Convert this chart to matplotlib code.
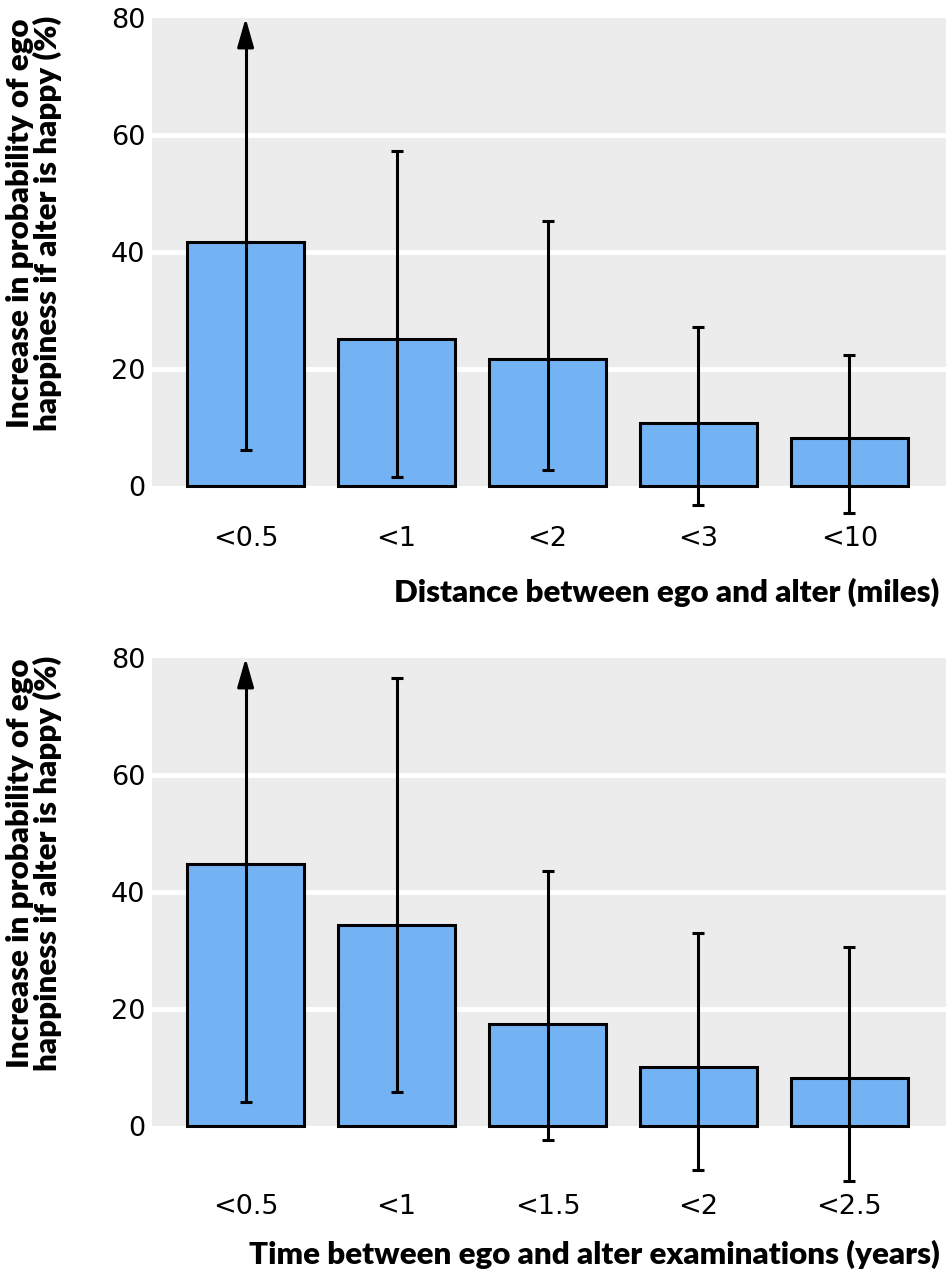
import matplotlib
matplotlib.use("Agg")
import matplotlib.pyplot as plt
from matplotlib.patches import Rectangle

# ---- data ----
dist_labels = ["<0.5", "<1", "<2", "<3", "<10"]
dist_values = [41.7, 25.1, 21.7, 10.8, 8.2]
dist_lower = [6.2, 1.5, 2.7, -3.2, -4.6]
dist_upper = [80, 57.3, 45.3, 27.2, 22.4]
dist_arrow = [True, False, False, False, False]

time_labels = ["<0.5", "<1", "<1.5", "<2", "<2.5"]
time_values = [44.8, 34.4, 17.4, 10.1, 8.2]
time_lower = [4.1, 5.8, -2.4, -7.5, -9.4]
time_upper = [80, 76.6, 43.6, 33.0, 30.6]
time_arrow = [True, False, False, False, False]

yticks = [0, 20, 40, 60, 80]
ylabel = "Increase in probability of ego\nhappiness if alter is happy (%)"
xlabel_top = "Distance between ego and alter (miles)"
xlabel_bottom = "Time between ego and alter examinations (years)"

BAR = "#73b3f3"
BG = "#ececec"
TICKFONT = ["DejaVu Sans"]
BOLDFONT = ["Lato", "DejaVu Sans"]

fig = plt.figure(figsize=(9.46, 12.8), dpi=100)


def panel(rect, labels, values, lower, upper, arrow, xlabel, tickpad, xlabel_y):
    ax = fig.add_axes(rect)
    ax.set_xlim(-0.62, 4.64)
    ax.set_ylim(0, 80)
    ax.patch.set_visible(False)
    for s in ax.spines.values():
        s.set_visible(False)
    x = list(range(len(labels)))
    ax.add_patch(Rectangle((-0.62, 0), 5.26, 80, facecolor=BG, edgecolor="none",
                           zorder=0, clip_on=False))
    for yv in yticks[1:-1]:
        ax.axhline(yv, color="white", lw=3.5, zorder=1)
    ax.bar(x, values, width=0.775, color=BAR, edgecolor="black", linewidth=2.2,
           zorder=2, clip_on=False)
    for xi, v, lo, hi, ar in zip(x, values, lower, upper, arrow):
        if ar:
            ax.plot([xi, xi], [lo, hi - 3], color="black", lw=2.2, zorder=3,
                    clip_on=False, solid_capstyle="butt")
            ax.annotate("", xy=(xi, hi), xytext=(xi, hi - 5),
                        arrowprops=dict(arrowstyle="-|>,head_width=0.5,head_length=1.75",
                                        color="black", lw=2.2, shrinkA=0, shrinkB=0,
                                        mutation_scale=10),
                        zorder=4, annotation_clip=False)
            ax.errorbar([xi], [v], yerr=[[v - lo], [0]], fmt="none", ecolor="black",
                        elinewidth=0, capsize=4.5, capthick=2.2, zorder=3, clip_on=False)
        else:
            ax.errorbar([xi], [v], yerr=[[v - lo], [hi - v]], fmt="none", ecolor="black",
                        elinewidth=2.2, capsize=4.5, capthick=2.2, zorder=3, clip_on=False)
    ax.set_yticks(yticks)
    ax.set_yticklabels([str(t) for t in yticks], family=TICKFONT, fontsize=19.5)
    ax.set_xticks(x)
    ax.set_xticklabels(labels, family=TICKFONT, fontsize=19.5)
    ax.tick_params(axis="y", length=0, pad=5)
    ax.tick_params(axis="x", length=0, pad=tickpad)
    ax.set_ylabel(ylabel, family=BOLDFONT, fontweight="heavy",
                  fontsize=22.5, linespacing=0.93)
    ax.yaxis.set_label_coords(-0.114, 0.562)
    fig.text(0.993, xlabel_y, xlabel, ha="right", va="center", family=BOLDFONT,
             fontweight="heavy", fontsize=22.5)
    return ax


panel([0.1607, 0.6203, 0.8393, 0.3656], dist_labels, dist_values, dist_lower,
      dist_upper, dist_arrow, xlabel_top, 29, 1 - 592 / 1280)
panel([0.1607, 0.1203, 0.8393, 0.3656], time_labels, time_values, time_lower,
      time_upper, time_arrow, xlabel_bottom, 49, 1 - 1254 / 1280)

fig.savefig("out.png", dpi=100)
